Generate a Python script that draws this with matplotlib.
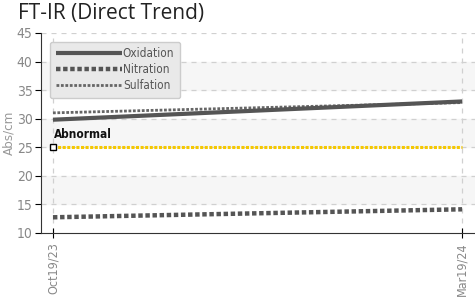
import matplotlib
matplotlib.use("Agg")
import matplotlib.pyplot as plt
import matplotlib.dates as mdates
from datetime import datetime

dates = [datetime(2023, 10, 19), datetime(2024, 3, 19)]
tick_labels = ["Oct19/23", "Mar19/24"]
oxidation = [29.8, 33.0]
nitration = [12.7, 14.1]
sulfation = [31.0, 32.8]
abnormal = 25

plt.rcParams['font.family'] = ['DejaVu Sans']
plt.rcParams['font.stretch'] = 'condensed'

fig = plt.figure(figsize=(4.75, 2.97), dpi=100)
ax = fig.add_axes([0.086, 0.2165, 0.914, 0.6725])

x = mdates.date2num(dates)
ax.set_xlim(x[0] - 4.5, x[1] + 4.8)
ax.set_ylim(10, 45)

# alternating bands
for lo in (15, 25, 35):
    ax.axhspan(lo, lo + 5, color="#f6f6f6", zorder=0)
for y in range(15, 46, 5):
    ax.axhline(y, color="#d0d0d0", lw=0.9, ls=(0, (4, 4)), zorder=1)
for xv in x:
    ax.axvline(xv, color="#d0d0d0", lw=0.9, ls=(0, (4, 4)), zorder=1)

ax.plot(x, oxidation, color="#555555", lw=3.0, solid_capstyle="butt", label="Oxidation", zorder=4)
ax.plot(x, nitration, color="#555555", lw=3.2, ls=(0, (1, 0.6)), label="Nitration", zorder=4)
ax.plot(x, sulfation, color="#666666", lw=2.0, ls=(0, (1, 0.6)), label="Sulfation", zorder=3)

ax.plot(x, [abnormal, abnormal], color="#f5c800", lw=2.2, ls=(0, (1, 0.5)), zorder=3)
ax.plot(x[0], abnormal, marker="s", ms=4.5, mfc="white", mec="black", mew=1.0, zorder=5, clip_on=False)
ax.text(x[0] + 0.2, abnormal + 1.1, "Abnormal", fontsize=8.5, fontweight="bold", color="#111111",
        va="bottom", ha="left")

ax.set_xticks(x)
ax.set_xticklabels(tick_labels, rotation=90, color="#888888", fontsize=9)
ax.set_yticks(range(10, 46, 5))
ax.tick_params(axis="y", colors="black", labelcolor="#888888", labelsize=10, length=4, direction="out", pad=2)
ax.tick_params(axis="x", colors="black", labelcolor="#888888", length=7, direction="inout")

for s in ("top", "right"):
    ax.spines[s].set_visible(False)
ax.spines["left"].set_color("#333333")
ax.spines["bottom"].set_color("#333333")

ax.set_ylabel("Abs/cm", color="#999999", fontsize=9.5, labelpad=1)

leg = ax.legend(loc="upper left", bbox_to_anchor=(0.012, 0.975), fontsize=8.5, frameon=True,
                fancybox=True, handlelength=5.6, handletextpad=0.1, labelspacing=0.25,
                borderpad=0.5, borderaxespad=0.3, labelcolor="#555555")
leg.get_frame().set_facecolor("#e9e9e9")
leg.get_frame().set_edgecolor("#cccccc")
leg.get_frame().set_alpha(1)

fig.text(0.038, 0.99, "FT-IR (Direct Trend)", fontsize=15, color="#222222", va="top",
         family="Open Sans", stretch="normal")

fig.savefig("out.png", dpi=100)
